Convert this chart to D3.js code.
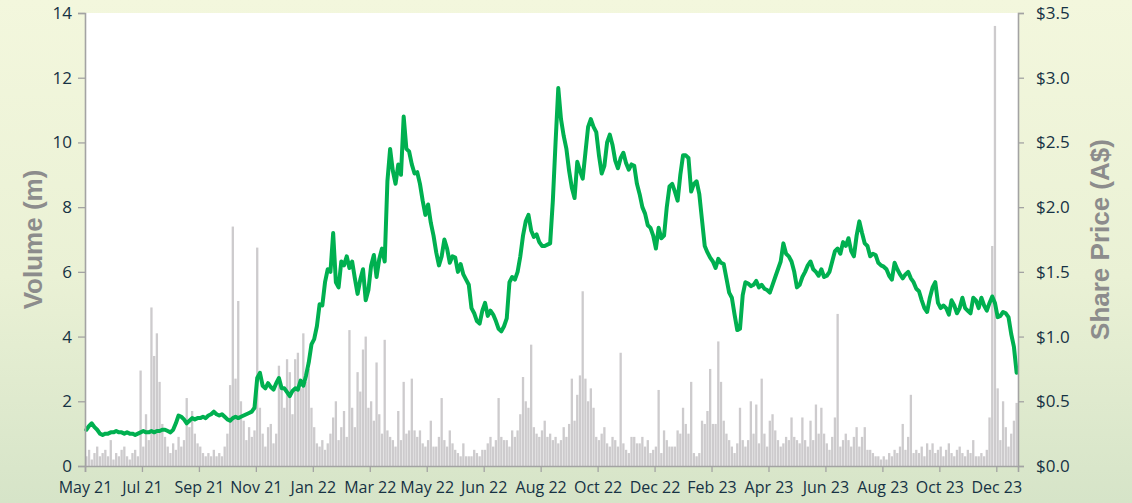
<!DOCTYPE html>
<html>
<head>
<meta charset="utf-8">
<script src="https://cdn.jsdelivr.net/npm/d3@7"></script>
<style>
  body { margin: 0; }
  #chart { width: 1132px; height: 503px; }
</style>
</head>
<body>
<div id="chart"></div>
<script>
// tick labels on the category axis (one every 21 points)
var monthLabels = ["May 21", "Jul 21", "Sep 21", "Nov 21", "Jan 22", "Mar 22", "May 22", "Jun 22",
  "Aug 22", "Oct 22", "Dec 22", "Feb 23", "Apr 23", "Jun 23", "Aug 23", "Oct 23", "Dec 23"]
var labelStep = 21

// volume (m), one value per point
var volume = [
  0.3,0.5,0.2,0.4,0.6,0.3,0.4,0.5,0.3,0.8,0.2,0.4,0.3,0.5,0.6,0.3,0.2,0.4,0.5,0.3,2.95,
  0.6,1.6,0.8,4.9,3.4,4.1,2.6,1.3,0.9,0.6,0.4,0.7,0.5,0.9,0.6,0.8,2.1,1.2,1.7,1.0,0.7,
  0.6,0.4,0.3,0.4,0.3,0.5,0.3,0.4,0.3,0.6,1.0,2.5,7.4,2.7,5.1,2.0,1.4,0.8,1.2,0.9,1.1,
  6.75,1.8,1.0,0.6,1.2,1.3,0.7,1.0,3.1,2.4,1.8,3.3,2.9,1.6,3.3,3.5,2.4,4.1,2.6,3.0,1.8,
  1.2,0.7,0.6,0.8,0.5,0.7,1.0,1.5,2.0,0.8,1.2,1.7,0.9,4.2,1.8,1.2,2.9,2.3,3.6,4.0,1.8,
  2.0,1.4,3.2,1.6,1.0,3.9,1.1,0.9,0.8,0.6,1.7,0.8,2.6,1.0,1.1,2.7,1.1,0.9,1.1,0.7,0.6,
  0.8,1.4,0.6,0.6,0.9,2.1,0.8,0.6,1.1,0.7,0.5,0.4,0.3,0.7,0.3,0.3,0.3,0.5,0.4,0.3,0.5,
  0.5,0.7,0.9,0.6,0.8,2.1,0.9,0.8,0.8,0.6,1.1,0.9,1.1,1.6,2.75,2.0,1.8,3.75,1.2,1.0,0.9,
  1.1,1.4,0.9,1.0,0.8,0.9,0.7,0.8,1.2,0.9,1.3,2.7,1.4,2.2,2.8,5.4,2.7,2.0,2.4,1.8,0.9,
  0.8,1.0,1.2,0.7,0.6,0.9,0.8,0.6,3.5,0.7,0.5,0.4,0.9,0.9,0.7,0.7,0.9,0.6,0.8,0.4,0.5,
  0.6,2.35,0.4,1.1,0.8,0.6,0.6,0.6,1.1,1.0,1.8,1.3,1.0,2.6,0.4,0.3,0.4,1.4,1.3,1.7,3.0,
  1.3,1.3,3.85,2.6,1.4,1.0,0.8,0.6,0.4,0.7,1.8,0.8,0.6,0.8,2.0,1.0,1.9,0.7,2.7,1.0,0.6,
  1.4,1.6,1.1,0.8,0.6,0.7,0.9,0.8,1.5,0.9,0.8,0.7,1.5,0.8,0.6,1.4,0.8,1.9,1.0,1.8,1.0,
  0.7,0.5,0.9,1.5,4.7,0.6,0.8,1.0,0.8,0.6,0.9,1.2,0.6,0.9,1.2,0.5,0.5,0.4,0.3,0.3,0.2,
  0.3,0.2,0.4,0.3,0.5,0.4,0.6,1.3,0.5,0.9,2.2,0.4,0.5,0.4,0.6,0.3,0.7,0.5,0.7,0.4,0.5,
  0.6,0.3,0.5,0.7,0.4,0.3,0.5,0.6,0.4,0.3,0.5,0.4,0.8,0.3,0.3,0.4,0.3,0.5,1.5,6.8,13.6,
  2.4,0.8,2.0,1.2,0.6,1.0,1.4,1.95
]

// share price (A$), one value per point
var price = [
  0.28,0.31,0.33,0.30,0.28,0.25,0.24,0.25,0.25,0.26,0.26,0.27,0.26,0.26,0.25,0.26,0.25,0.25,0.24,0.25,0.26,
  0.27,0.26,0.26,0.27,0.26,0.27,0.27,0.28,0.28,0.27,0.26,0.28,0.33,0.39,0.38,0.36,0.33,0.35,0.37,0.36,0.37,
  0.37,0.38,0.37,0.39,0.40,0.42,0.40,0.39,0.40,0.38,0.36,0.35,0.37,0.38,0.37,0.38,0.39,0.40,0.41,0.42,0.45,
  0.68,0.72,0.62,0.60,0.64,0.61,0.59,0.64,0.68,0.60,0.60,0.57,0.54,0.58,0.60,0.59,0.66,0.62,0.70,0.80,0.94,
  0.98,1.08,1.25,1.24,1.42,1.52,1.50,1.80,1.42,1.38,1.58,1.55,1.62,1.53,1.58,1.45,1.33,1.44,1.52,1.28,1.36,
  1.55,1.63,1.46,1.60,1.68,1.58,2.20,2.45,2.28,2.18,2.33,2.25,2.70,2.45,2.43,2.33,2.26,2.27,2.18,2.05,1.94,
  2.02,1.88,1.78,1.65,1.55,1.62,1.75,1.68,1.57,1.62,1.61,1.50,1.56,1.48,1.44,1.40,1.22,1.18,1.12,1.10,1.20,
  1.26,1.16,1.20,1.17,1.12,1.06,1.04,1.08,1.14,1.42,1.46,1.44,1.50,1.62,1.78,1.89,1.94,1.82,1.77,1.79,1.73,
  1.70,1.70,1.71,1.72,2.05,2.50,2.92,2.68,2.55,2.45,2.28,2.15,2.07,2.35,2.28,2.22,2.42,2.62,2.68,2.62,2.58,
  2.40,2.26,2.32,2.50,2.56,2.48,2.36,2.30,2.38,2.42,2.34,2.29,2.33,2.32,2.18,2.10,2.00,1.95,1.86,1.84,1.78,
  1.68,1.84,1.76,1.78,2.00,2.16,2.18,2.12,2.05,2.25,2.40,2.40,2.38,2.12,2.18,2.20,2.10,1.90,1.70,1.65,1.61,
  1.58,1.53,1.60,1.57,1.56,1.45,1.34,1.30,1.17,1.05,1.06,1.32,1.42,1.41,1.39,1.40,1.43,1.38,1.40,1.37,1.36,
  1.34,1.40,1.46,1.52,1.58,1.72,1.64,1.62,1.58,1.50,1.38,1.40,1.46,1.50,1.55,1.58,1.52,1.50,1.47,1.52,1.46,
  1.47,1.50,1.58,1.66,1.68,1.64,1.73,1.70,1.76,1.66,1.62,1.78,1.89,1.80,1.72,1.70,1.62,1.64,1.63,1.57,1.55,
  1.54,1.52,1.47,1.44,1.57,1.52,1.48,1.45,1.48,1.50,1.45,1.42,1.37,1.35,1.28,1.22,1.19,1.30,1.38,1.42,1.26,
  1.22,1.24,1.22,1.17,1.28,1.24,1.18,1.22,1.30,1.22,1.20,1.18,1.30,1.28,1.22,1.30,1.24,1.20,1.26,1.31,1.26,
  1.15,1.16,1.19,1.18,1.15,1.02,0.92,0.72
]

var volTicks = [0, 2, 4, 6, 8, 10, 12, 14]
var priceTicks = [0, 0.5, 1, 1.5, 2, 2.5, 3, 3.5]

var width = 1132
var height = 503
var margin = { top: 13, right: 114, bottom: 37, left: 85 }
var plotW = width - margin.left - margin.right
var plotH = height - margin.top - margin.bottom

var svg = d3.select("#chart")
  .append("svg")
  .attr("width", width)
  .attr("height", height)

// Hintergrund mit Verlauf
var grad = svg.append("defs").append("linearGradient")
  .attr("id", "bg").attr("x1", 0).attr("y1", 0).attr("x2", 0).attr("y2", 1)
grad.append("stop").attr("offset", "0%").attr("stop-color", "#f3f7dd")
grad.append("stop").attr("offset", "55%").attr("stop-color", "#eaf1d5")
grad.append("stop").attr("offset", "100%").attr("stop-color", "#d6e4c8")

svg.append("rect")
  .attr("width", width).attr("height", height)
  .attr("fill", "url(#bg)")

var g = svg.append("g")
  .attr("transform", "translate(" + margin.left + "," + margin.top + ")")

g.append("rect")
  .attr("width", plotW).attr("height", plotH)
  .attr("fill", "#ffffff")

// scales
var x = d3.scaleLinear().domain([0, volume.length]).range([0, plotW])
var yVol = d3.scaleLinear().domain([0, 14]).range([plotH, 0])
var yPrice = d3.scaleLinear().domain([0, 3.5]).range([plotH, 0])
var step = x(1) - x(0)
var barW = step * 0.85

// volume bars
g.selectAll(".bar")
  .data(volume)
  .enter()
  .append("rect")
    .attr("class", "bar")
    .attr("x", function(d, i){ return x(i) + (step - barW) / 2 })
    .attr("y", function(d){ return yVol(d) })
    .attr("width", barW)
    .attr("height", function(d){ return plotH - yVol(d) })
    .attr("fill", "#cdcbcd")

// share price line
var line = d3.line()
  .x(function(d, i){ return x(i) + step / 2 })
  .y(function(d){ return yPrice(d) })

g.append("path")
  .datum(price)
  .attr("d", line)
  .attr("fill", "none")
  .attr("stroke", "#00b050")
  .attr("stroke-width", 4)
  .attr("stroke-linejoin", "round")
  .attr("stroke-linecap", "round")

// axes
var axisColor = "#a3a3a3"
var textColor = "#163244"
var tickFont = "'Open Sans', sans-serif"

function styleAxis(sel){
  sel.select(".domain").attr("stroke", axisColor).attr("stroke-width", 1.6)
  sel.selectAll(".tick line").attr("stroke", axisColor).attr("stroke-width", 1.3)
  sel.selectAll(".tick text")
    .attr("fill", textColor)
    .style("font-family", tickFont)
    .style("font-size", "16px")
}

var xAxis = d3.axisBottom(x)
  .tickValues(monthLabels.map(function(d, i){ return i * labelStep }))
  .tickFormat(function(d){ return monthLabels[d / labelStep] })
  .tickSizeOuter(0)
  .tickSize(6)
  .tickPadding(10)

g.append("g")
  .attr("transform", "translate(0," + plotH + ")")
  .call(xAxis)
  .call(styleAxis)

g.append("g")
  .call(d3.axisLeft(yVol).tickValues(volTicks).tickSizeOuter(0).tickSize(7).tickPadding(6))
  .call(styleAxis)
  .selectAll(".tick text").style("font-size", "17px")

g.append("g")
  .attr("transform", "translate(" + plotW + ",0)")
  .call(d3.axisRight(yPrice).tickValues(priceTicks).tickSizeOuter(0).tickSize(6).tickPadding(12)
    .tickFormat(function(d){ return "$" + d.toFixed(1) }))
  .call(styleAxis)
  .selectAll(".tick text").style("font-size", "17px")

// axis titles
svg.append("text")
  .attr("transform", "translate(42," + (margin.top + plotH / 2) + ") rotate(-90)")
  .attr("text-anchor", "middle")
  .style("font-family", "'Liberation Sans', Arial, sans-serif")
  .style("font-weight", "bold")
  .style("font-size", "26px")
  .attr("fill", "#8c8c8c")
  .text("Volume (m)")

svg.append("text")
  .attr("transform", "translate(1109," + (margin.top + plotH / 2) + ") rotate(-90)")
  .attr("text-anchor", "middle")
  .style("font-family", "'Liberation Sans', Arial, sans-serif")
  .style("font-weight", "bold")
  .style("font-size", "26px")
  .attr("fill", "#8c8c8c")
  .text("Share Price (A$)")
</script>
</body>
</html>
